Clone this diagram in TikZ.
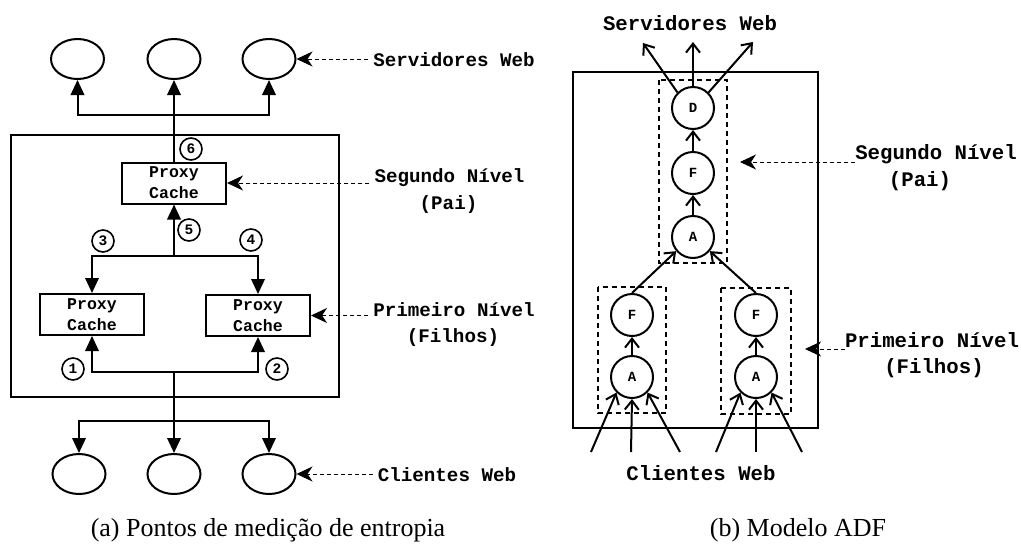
\documentclass[tikz,border=0pt]{standalone}
\usepackage{fontspec}
\setmainfont{Liberation Serif}
\setmonofont{Liberation Mono}
\usetikzlibrary{positioning}
\usetikzlibrary{shapes.geometric}
\usetikzlibrary{arrows.meta}

\newcommand{\lblfontA}{\ttfamily\bfseries\fontsize{19.2}{22}\selectfont}
\newcommand{\lblfontB}{\ttfamily\bfseries\fontsize{20.7}{24}\selectfont}
\newcommand{\boxfont}{\ttfamily\bfseries\fontsize{16.5}{21}\selectfont}
\newcommand{\capfont}{\fontsize{26}{30}\selectfont}

\tikzset{
  host/.style={draw, ellipse, line width=2pt, minimum width=53pt, minimum height=40pt, inner sep=0pt},
  proxy/.style={draw, line width=2pt, minimum width=104pt, minimum height=41pt, inner sep=0pt, align=center, font=\boxfont},
  badge/.style={draw, circle, line width=1.6pt, minimum size=22pt, inner sep=0pt, font=\ttfamily\bfseries\fontsize{14.5}{14.5}\selectfont},
  proc/.style={draw, circle, line width=2pt, minimum size=42pt, inner sep=0pt, font=\ttfamily\bfseries\fontsize{14}{14}\selectfont},
  frame/.style={line width=2.4pt},
  group/.style={line width=2.4pt, dash pattern=on 5pt off 4pt},
  line/.style={line width=2pt},
  flow/.style={line width=2pt, -{Triangle[length=15pt,width=13.5pt]}},
  barb/.style={line width=2pt, -{Straight Barb[length=9pt,width=14pt]}},
  pointer/.style={line width=1pt, dash pattern=on 4pt off 3pt, -{Stealth[length=16pt,width=15pt,inset=5pt]}},
  gap/.style={shorten <=5pt},
  lblA/.style={font=\lblfontA, inner sep=0pt},
  lblB/.style={font=\lblfontB, inner sep=0pt},
  caption/.style={font=\capfont, inner sep=0pt}
}

\begin{document}
\begin{tikzpicture}[x=1pt, y=-1pt]
    \useasboundingbox (0,0) rectangle (1021,547);

    % (a) Servers and clients
    \foreach \i/\x in {1/77.5,2/174,3/269} {
        \node[host] (srv\i) at (\x,59) {};
    }
    \foreach \i/\x in {1/79,2/174,3/269} {
        \node[host] (cli\i) at (\x,474) {};
    }
    \draw[frame] (11,135) rectangle (339,397);

    % Proxy caches
    \node[proxy] (pxTop) at (174,183) {Proxy\\Cache};
    \node[proxy] (pxL) at (92,314.5) {Proxy\\Cache};
    \node[proxy] (pxR) at (258,315.5) {Proxy\\Cache};

    \coordinate (busTop) at (174,115);
    \coordinate (busMid) at (174,256);
    \coordinate (busLow) at (174,372);
    \coordinate (busCli) at (174,421);

    \draw[flow] (pxTop) -- (srv2);
    \draw[flow] (busTop) -| (srv1);
    \draw[flow] (busTop) -| (srv3);
    \draw[flow] (busMid) -- (pxTop);
    \draw[flow] (busMid) -| (pxL);
    \draw[flow] (busMid) -| (pxR);
    \draw[flow] (busLow) -| (pxL);
    \draw[flow] (busLow) -| (pxR);
    \draw[line] (busLow) -- (busCli);
    \draw[flow] (busCli) -| (cli1);
    \draw[flow] (busCli) -- (cli2);
    \draw[flow] (busCli) -| (cli3);

    % Measurement points
    \node[badge] (n1) at (73,369) {1};
    \node[badge] (n2) at (277,369) {2};
    \node[badge] (n3) at (103,241) {3};
    \node[badge] (n4) at (251,240) {4};
    \node[badge] (n5) at (189,230) {5};
    \node[badge] (n6) at (191,149) {6};

    % Labels (a)
    \node[lblA] (tSrv) at (454,60) {Servidores Web};
    \draw[pointer, gap] (tSrv.west |- srv3.east) -- (srv3.east);
    \node[lblA] (tSeg) at (449.5,178) {Segundo Nível};
    \node[lblA] (tPai) at (448.5,205) {(Pai)};
    \draw[pointer, gap] (tSeg.west |- pxTop.east) -- (pxTop.east);
    \node[lblA] (tPrim) at (454,310) {Primeiro Nível};
    \node[lblA] (tFil) at (453,338) {(Filhos)};
    \draw[pointer, gap] (tPrim.west |- pxR.east) -- (pxR.east);
    \node[lblA] (tCli) at (447,475) {Clientes Web};
    \draw[pointer, gap] (tCli.west |- cli3.east) -- (cli3.east);
    \node[caption] (capA) at (268,530) {(a) Pontos de medição de entropia};

    % (b) ADF model
    \draw[frame] (573,72) rectangle (818,428);
    \node[proc] (dC) at (693,108) {D};
    \node[proc] (fC) at (693,173) {F};
    \node[proc] (aC) at (693,237) {A};
    \node[proc] (fL) at (632,315) {F};
    \node[proc] (aL) at (632,377) {A};
    \node[proc] (fR) at (756,315) {F};
    \node[proc] (aR) at (756,377) {A};
    \draw[group] (659,80) rectangle (727,263);
    \draw[group] (598,287) rectangle (666,413);
    \draw[group] (721,288) rectangle (791,414);

    \node[lblB] (tSrvB) at (690,23) {Servidores Web};
    \coordinate (out1) at (643,43);
    \coordinate (out2) at (693,42);
    \coordinate (out3) at (753,42);
    \draw[barb] (dC.135) -- (out1);
    \draw[barb] (dC.90) -- (out2);
    \draw[barb] (dC.45) -- (out3);
    \draw[barb] (fC) -- (dC);
    \draw[barb] (aC) -- (fC);
    \draw[barb] (aL) -- (fL);
    \draw[barb] (aR) -- (fR);
    \draw[barb] (fL.north) -- (aC.220);
    \draw[barb] (fR.north) -- (aC.320);

    % Client requests
    \foreach \s/\x/\a in {aL/591/225, aL/631/270, aL/680/315, aR/716/225, aR/756/270, aR/802/315} {
        \coordinate (src\x) at (\x,452);
        \draw[barb] (src\x) -- (\s.\a);
    }
    \node[lblB] (tCliB) at (701,473) {Clientes Web};

    % Labels (b)
    \node[lblB] (tSegB) at (936,154) {Segundo Nível};
    \node[lblB] (tPaiB) at (920,181) {(Pai)};
    \coordinate (segTip) at (740,162);
    \draw[pointer] (tSegB.west |- segTip) -- (segTip);
    \node[lblB] (tPrimB) at (932,340) {Primeiro Nível};
    \node[lblB] (tFilB) at (934,368) {(Filhos)};
    \coordinate (primTip) at (805,349);
    \draw[pointer] (tPrimB.west |- primTip) -- (primTip);
    \node[caption] (capB) at (798,530) {(b) Modelo ADF};
\end{tikzpicture}
\end{document}
